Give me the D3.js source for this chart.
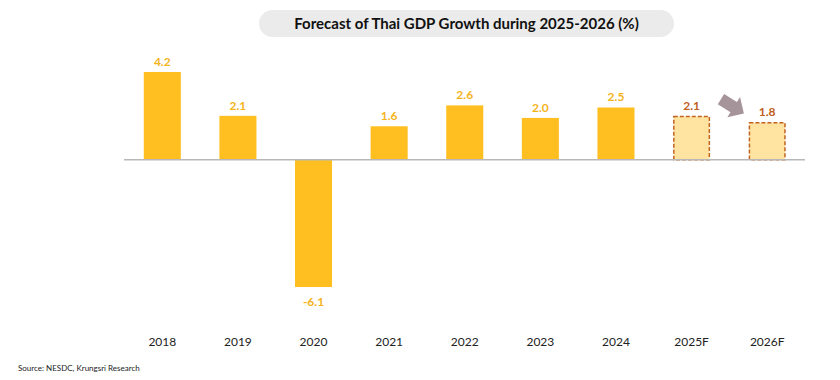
<!DOCTYPE html>
<html><head><meta charset="utf-8">
<script src="https://cdn.jsdelivr.net/npm/d3@7"></script>
<style>body{margin:0;background:#fff;} text{font-family:Lato,"Open Sans",sans-serif;}</style>
</head><body><svg id="c" width="840" height="380"></svg>
<script>
const categories = ["2018","2019","2020","2021","2022","2023","2024","2025F","2026F"];
const values = [4.2, 2.1, -6.1, 1.6, 2.6, 2.0, 2.5, 2.1, 1.8];
const forecast = [false,false,false,false,false,false,false,true,true];
const labels = ["4.2","2.1","-6.1","1.6","2.6","2.0","2.5","2.1","1.8"];
const title = "Forecast of Thai GDP Growth during 2025-2026 (%)";
const source = "Source: NESDC, Krungsri Research";

const svg = d3.select("#c");
const x = d3.scaleBand().domain(categories).range([124.5, 805]).paddingInner(0.51).paddingOuter(0.255);
const y = d3.scaleLinear().domain([-6.1, 4.2]).range([287, 72]);

// title pill
svg.append("rect").attr("x",259).attr("y",10).attr("width",415).attr("height",27).attr("rx",13.5).attr("fill","#ebebeb");
svg.append("text").attr("x",466.5).attr("y",29).attr("text-anchor","middle").attr("font-size",15).attr("font-weight","bold").attr("fill","#111").text(title);

const data = categories.map((c,i)=>({c, v:values[i], f:forecast[i], l:labels[i]}));

svg.selectAll("rect.bar").data(data).join("rect").attr("class","bar")
  .attr("x", d=>x(d.c)+(d.f?0.75:0))
  .attr("width", d=>x.bandwidth()-(d.f?1.5:0))
  .attr("y", d=>Math.min(y(d.v), y(0)) + (d.f?0.75:0))
  .attr("height", d=>Math.abs(y(d.v)-y(0)) - (d.f?0.75:0))
  .attr("fill", d=>d.f?"#fee3a1":"#ffbf21")
  .attr("stroke", d=>d.f?"#c2641f":"none")
  .attr("stroke-width", 1.5)
  .attr("stroke-dasharray", d=>d.f?"4,2":null);

// baseline
svg.append("line").attr("x1",124).attr("x2",805).attr("y1",y(0)).attr("y2",y(0)).attr("stroke","#b8b8b8").attr("stroke-width",1.5);

svg.selectAll("text.val").data(data).join("text").attr("class","val")
  .attr("x", d=>x(d.c)+x.bandwidth()/2)
  .attr("y", d=>d.v>=0 ? y(d.v)-6 : y(d.v)+19)
  .attr("text-anchor","middle").attr("font-size",12).attr("font-weight","bold")
  .attr("fill", d=>d.f?"#c0601c":"#f4b41c").text(d=>d.l);

// x axis labels
const ax = svg.append("g").attr("transform","translate(0,336)").call(d3.axisBottom(x).tickSize(0).tickPadding(0));
ax.select(".domain").remove();
ax.selectAll("text").attr("font-size",12).attr("fill","#222").attr("font-family","Lato,'Open Sans',sans-serif").attr("dy","0.85em");

// arrow
const arrow = svg.append("g").attr("transform","translate(732,106) rotate(32)");
arrow.append("path").attr("d","M-13,-6 L2,-6 L2,-12 L14,0 L2,12 L2,6 L-13,6 Z").attr("fill","#a5949a");

svg.append("text").attr("x",18).attr("y",371).attr("font-size",8).attr("fill","#222").text(source);
</script></body></html>
